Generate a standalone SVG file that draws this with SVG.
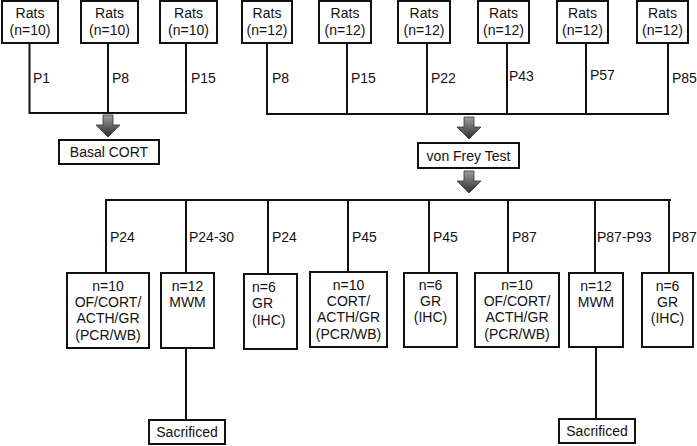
<svg xmlns="http://www.w3.org/2000/svg" width="697" height="446" viewBox="0 0 697 446">
<style>
.box{fill:#fff;stroke:#111;stroke-width:2}
.ln{fill:none;stroke:#111;stroke-width:2}
text{font-family:"Liberation Sans",Arial,sans-serif;font-size:14px;fill:#111}
.c{text-anchor:middle}
.arr{fill:url(#g);stroke:#333;stroke-width:0.8}
</style>
<defs>
<linearGradient id="g" x1="0" y1="0" x2="0" y2="1">
<stop offset="0" stop-color="#a0a0a0"/>
<stop offset="1" stop-color="#2a2a2a"/>
</linearGradient>
<path id="arrow" d="M-5,0 H5 V10 H12 L0,22 L-12,10 H-5 Z"/>
</defs>
<rect width="697" height="446" fill="#fff"/>

<g id="connectors">
<path class="ln" d="M29.5,43 V113 M108,43 V113 M186,43 V113 M28.5,113 H187"/>
<path class="ln" d="M267,43 V114 M347,43 V114 M427,43 V114 M507,43 V114 M586,43 V114 M668,43 V114 M266,114 H669"/>
<path class="ln" d="M105,200 H671 M106,200 V273 M186,200 V273 M268,200 V274 M348,200 V272 M429,200 V273 M508,200 V273 M595,200 V273 M669,200 V273"/>
<path class="ln" d="M186,348 V420 M596,347 V419"/>
<use href="#arrow" class="arr" transform="translate(108,115)"/>
<use href="#arrow" class="arr" transform="translate(469,117)"/>
<use href="#arrow" class="arr" transform="translate(469,171)"/>
<text x="33" y="83">P1</text>
<text x="112" y="83">P8</text>
<text x="191" y="83">P15</text>
<text x="272" y="83">P8</text>
<text x="351" y="83">P15</text>
<text x="431" y="83">P22</text>
<text x="509" y="81">P43</text>
<text x="590" y="80">P57</text>
<text x="672" y="83">P85</text>
<text x="110" y="242">P24</text>
<text x="189" y="242">P24-30</text>
<text x="272" y="242">P24</text>
<text x="352" y="242">P45</text>
<text x="433" y="242">P45</text>
<text x="512" y="242">P87</text>
<text x="597" y="242">P87-P93</text>
<text x="672" y="242">P87</text>
</g>

<g id="rats1"><rect class="box" x="2" y="1" width="56" height="42"/><text class="c" x="30" y="18">Rats</text><text class="c" x="30" y="35">(n=10)</text></g>
<g id="rats2"><rect class="box" x="81" y="1" width="57" height="42"/><text class="c" x="109.5" y="18">Rats</text><text class="c" x="109.5" y="35">(n=10)</text></g>
<g id="rats3"><rect class="box" x="160" y="1" width="57" height="42"/><text class="c" x="188.5" y="18">Rats</text><text class="c" x="188.5" y="35">(n=10)</text></g>

<g id="rats4"><rect class="box" x="242" y="1" width="50" height="42"/><text class="c" x="267" y="18">Rats</text><text class="c" x="267" y="35">(n=12)</text></g>
<g id="rats5"><rect class="box" x="319" y="1" width="52" height="42"/><text class="c" x="345" y="18">Rats</text><text class="c" x="345" y="35">(n=12)</text></g>
<g id="rats6"><rect class="box" x="398" y="1" width="52" height="42"/><text class="c" x="424" y="18">Rats</text><text class="c" x="424" y="35">(n=12)</text></g>
<g id="rats7"><rect class="box" x="478" y="1" width="51" height="42"/><text class="c" x="503.5" y="18">Rats</text><text class="c" x="503.5" y="35">(n=12)</text></g>
<g id="rats8"><rect class="box" x="557" y="1" width="51" height="42"/><text class="c" x="582.5" y="18">Rats</text><text class="c" x="582.5" y="35">(n=12)</text></g>
<g id="rats9"><rect class="box" x="637" y="1" width="51" height="42"/><text class="c" x="662.5" y="18">Rats</text><text class="c" x="662.5" y="35">(n=12)</text></g>

<g id="basal"><rect class="box" x="59" y="140" width="100" height="24"/><text class="c" x="109" y="157">Basal CORT</text></g>
<g id="vonfrey"><rect class="box" x="418" y="143" width="101" height="25"/><text class="c" x="468.5" y="160.5">von Frey Test</text></g>

<g id="g1"><rect class="box" x="67" y="273" width="82" height="75"/><text class="c" x="108" y="291">n=10</text><text class="c" x="108" y="307">OF/CORT/</text><text class="c" x="108" y="323">ACTH/GR</text><text class="c" x="108" y="340">(PCR/WB)</text></g>
<g id="g2"><rect class="box" x="161" y="273" width="53" height="75"/><text class="c" x="187.5" y="291">n=12</text><text class="c" x="187.5" y="307">MWM</text></g>
<g id="g3"><rect class="box" x="244" y="274" width="53" height="75"/><text x="252" y="292">n=6</text><text x="252" y="308">GR</text><text x="252" y="325">(IHC)</text></g>
<g id="g4"><rect class="box" x="310" y="272" width="77" height="75"/><text class="c" x="348.5" y="290">n=10</text><text class="c" x="348.5" y="306">CORT/</text><text class="c" x="348.5" y="322">ACTH/GR</text><text class="c" x="348.5" y="339">(PCR/WB)</text></g>
<g id="g5"><rect class="box" x="404" y="273" width="53" height="74"/><text class="c" x="430.5" y="290">n=6</text><text class="c" x="430.5" y="306">GR</text><text class="c" x="430.5" y="322">(IHC)</text></g>
<g id="g6"><rect class="box" x="475" y="273" width="84" height="74"/><text class="c" x="517" y="290">n=10</text><text class="c" x="517" y="306">OF/CORT/</text><text class="c" x="517" y="322">ACTH/GR</text><text class="c" x="517" y="339">(PCR/WB)</text></g>
<g id="g7"><rect class="box" x="569" y="273" width="54" height="74"/><text class="c" x="596" y="291">n=12</text><text class="c" x="596" y="307">MWM</text></g>
<g id="g8"><rect class="box" x="642" y="273" width="51" height="74"/><text class="c" x="667.5" y="291">n=6</text><text class="c" x="667.5" y="307">GR</text><text class="c" x="667.5" y="323">(IHC)</text></g>

<g id="sac1"><rect class="box" x="149" y="420" width="76" height="24"/><text class="c" x="187" y="437">Sacrificed</text></g>
<g id="sac2"><rect class="box" x="559" y="419" width="76" height="24"/><text class="c" x="597" y="436">Sacrificed</text></g>
</svg>
